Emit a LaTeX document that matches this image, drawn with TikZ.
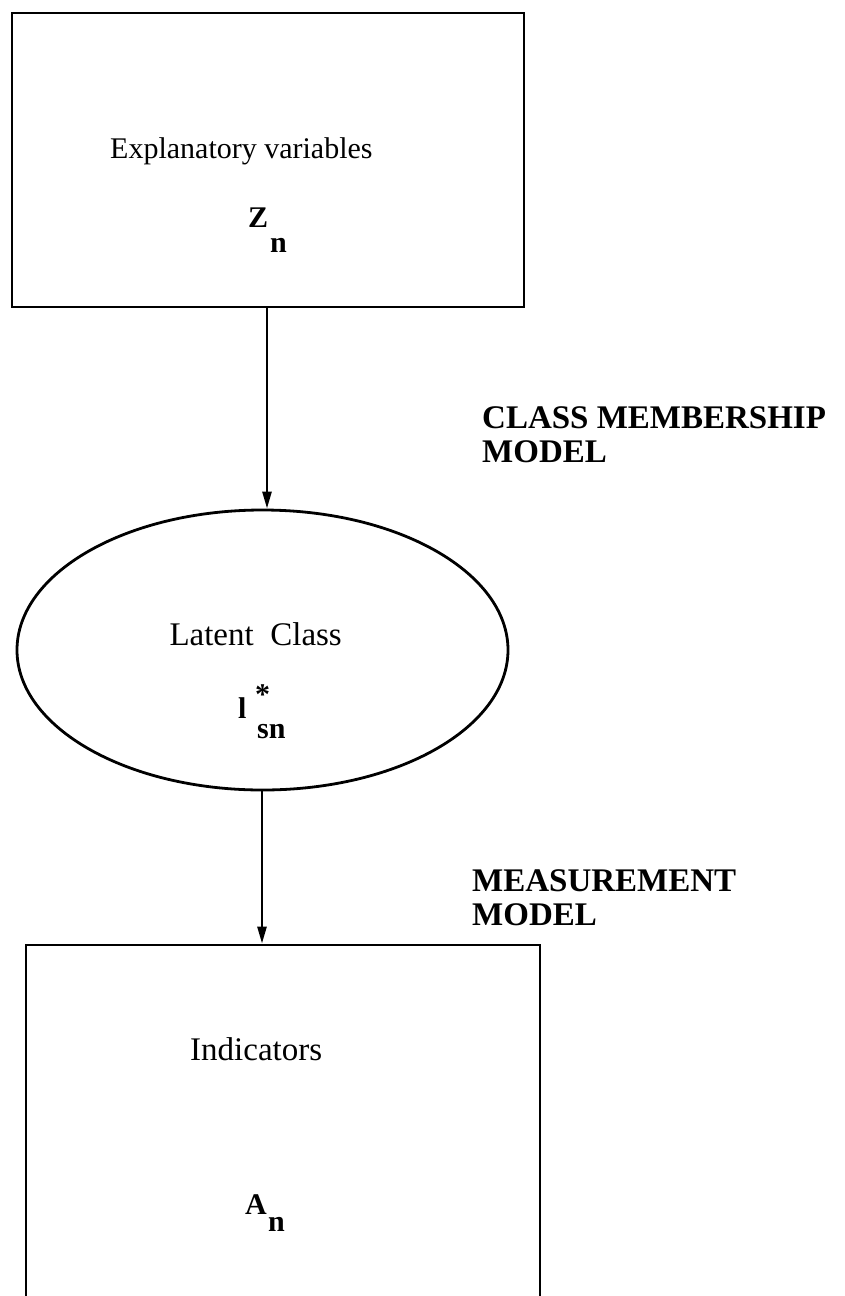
\documentclass[tikz,border=0pt]{standalone}
\usepackage{fontspec}
\setmainfont{Liberation Serif}
\usetikzlibrary{shapes.geometric,arrows.meta}

\tikzset{
  frame/.style={draw, line width=2.8pt, rectangle, inner sep=0pt},
  oval/.style={draw, line width=2.8pt, ellipse, inner sep=0pt},
  link/.style={line width=2.6pt, -{Triangle[length=17pt,width=9pt]}},
  plain/.style={inner sep=0pt, font=\fontsize{30}{36}\selectfont},
  bigplain/.style={inner sep=0pt, font=\fontsize{33}{38}\selectfont},
  sym/.style={inner sep=0pt, font=\fontsize{30}{36}\selectfont\bfseries},
  tag/.style={inner sep=0pt, align=left, font=\fontsize{33}{34}\selectfont\bfseries},
}

\begin{document}
\begin{tikzpicture}[x=1pt, y=-1pt]
  \clip (0,0) rectangle (844,1296);
  \fill[white] (0,0) rectangle (844,1296);

  % boxes and the latent class ellipse
  \node[frame, minimum width=512pt, minimum height=294pt] (expl) at (268,160) {};
  \node[oval, minimum width=491pt, minimum height=280pt] (lat) at (262.5,650) {};
  \node[frame, minimum width=514pt, minimum height=420pt] (ind) at (283,1155) {};

  % contents of the explanatory variables box
  \node[plain, anchor=base west] (explt) at (110,158) {Explanatory variables};
  \node[sym, anchor=base west] (z) at (248,227) {Z};
  \node[sym, anchor=base west] (zn) at (270,252) {n};

  % contents of the ellipse
  \node[bigplain, anchor=base east] (latt) at (342,645) {Latent\ \ Class};
  \node[sym, anchor=base west] (l) at (238,718) {l};
  \node[sym, anchor=base west] (lstar) at (255,704) {*};
  \node[sym, anchor=base west] (lsn) at (257,738) {sn};

  % contents of the indicators box
  \node[bigplain, anchor=base west] (indt) at (190,1060) {Indicators};
  \node[sym, anchor=base west] (a) at (245,1214) {A};
  \node[sym, anchor=base west] (an) at (268,1231) {n};

  % model labels (base anchor sits on the last line)
  \node[tag, anchor=base west] (cm) at (482,462) {CLASS MEMBERSHIP\\MODEL};
  \node[tag, anchor=base west] (mm) at (472,925) {MEASUREMENT\\MODEL};

  % connectors
  \coordinate (c1) at (267,0);
  \coordinate (c2) at (262,0);
  \draw[link] (c1 |- expl.south) -- (c1 |- lat.north);
  \draw[link] (c2 |- lat.south) -- (c2 |- ind.north);
\end{tikzpicture}
\end{document}
